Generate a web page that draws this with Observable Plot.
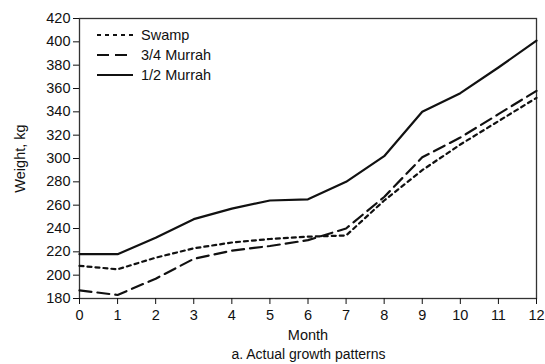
<!DOCTYPE html>
<html>
<head>
<meta charset="utf-8">
<script src="https://cdn.jsdelivr.net/npm/d3@7"></script>
<script src="https://cdn.jsdelivr.net/npm/@observablehq/plot@0.6"></script>
<style>
  body { margin: 0; background: #fff; font-family: "Liberation Sans", Arial, sans-serif; color: #111; }
  #wrap { position: relative; width: 545px; }
  #legend { position: absolute; left: 97px; top: 25px; font-size: 14.5px; }
  #legend .row { display: flex; align-items: center; height: 20px; }
  #legend svg { margin-right: 8px; }
  #caption { font-size: 14px; text-align: center; padding-left: 72px; margin-top: 2px; line-height: 17px; }
</style>
</head>
<body>
<div id="wrap">
  <div id="chart"></div>
  <div id="legend"></div>
  <div id="caption">a. Actual growth patterns</div>
</div>
<script>
// Monthly live weight (kg) for three buffalo genotypes
const months = [0, 1, 2, 3, 4, 5, 6, 7, 8, 9, 10, 11, 12];
const swamp    = [208, 205, 215, 223, 228, 231, 233, 234, 264, 290, 312, 332, 352];
const murrah34 = [187, 183, 197, 214, 221, 225, 230, 240, 267, 301, 318, 338, 358];
const murrah12 = [218, 218, 232, 248, 257, 264, 265, 280, 302, 340, 356, 378, 401];

const seriesNames = ["Swamp", "3/4 Murrah", "1/2 Murrah"];
const seriesValues = [swamp, murrah34, murrah12];
const dashes = ["4,4", "12,6", null];

const yTicks = d3.range(180, 421, 20);

const rows = seriesNames.flatMap((name, i) =>
  months.map((m, j) => ({series: name, month: m, weight: seriesValues[i][j]}))
);

const chart = Plot.plot({
  width: 545,
  height: 344,
  marginLeft: 79,
  marginRight: 9,
  marginTop: 18,
  marginBottom: 46,
  style: {fontFamily: "Liberation Sans, Arial, sans-serif", fontSize: "14.5px", color: "#111", background: "#fff"},
  x: {domain: [0, 12]},
  y: {domain: [180, 420]},
  marks: [
    Plot.frame({stroke: "#333", strokeWidth: 1.3}),
    Plot.axisX({ticks: months, tickFormat: d => d, tickSize: 6, tickPadding: 5,
      label: "Month", labelAnchor: "center", labelArrow: "none", labelOffset: 41}),
    Plot.axisY({ticks: yTicks, tickFormat: d => d, tickSize: 6, tickPadding: 3,
      label: "Weight, kg", labelAnchor: "center", labelArrow: "none", labelOffset: 65}),
    ...seriesNames.map((name, i) =>
      Plot.line(rows.filter(r => r.series === name), {
        x: "month", y: "weight", stroke: "#111", strokeWidth: 2.2,
        strokeDasharray: dashes[i]
      })
    )
  ]
});
document.getElementById("chart").append(chart);

// Legend: line sample plus series name
const legend = d3.select("#legend");
seriesNames.forEach((name, i) => {
  const row = legend.append("div").attr("class", "row");
  const s = row.append("svg").attr("width", 36).attr("height", 6);
  s.append("line").attr("x1", 0).attr("x2", 36).attr("y1", 3).attr("y2", 3)
    .attr("stroke", "#111").attr("stroke-width", 2.2)
    .attr("stroke-dasharray", dashes[i]);
  row.append("span").text(name);
});
</script>
</body>
</html>
